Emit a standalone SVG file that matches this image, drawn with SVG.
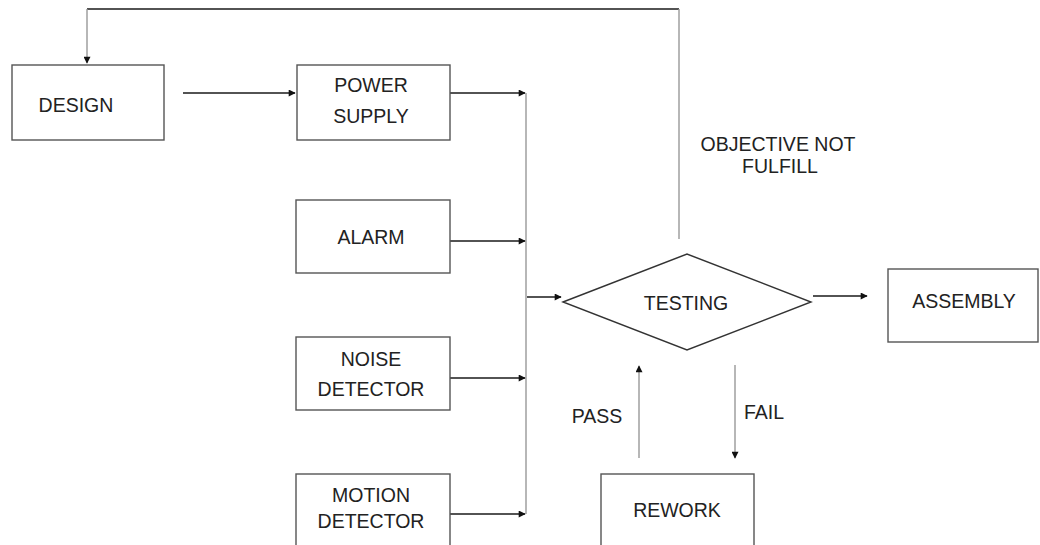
<svg xmlns="http://www.w3.org/2000/svg" width="1040" height="545" viewBox="0 0 1040 545">
<style>
.box{fill:none;stroke:#555;stroke-width:1.4}
.t{font-family:"Liberation Sans",Arial,sans-serif;font-size:19.5px;fill:#222;text-anchor:middle}
.h{fill:none;stroke:#1a1a1a;stroke-width:1.6}
.v{fill:none;stroke:#999;stroke-width:1.4}
</style>
<defs>
<marker id="ah" viewBox="0 0 10 10" refX="9" refY="5" markerWidth="9" markerHeight="7" markerUnits="userSpaceOnUse" orient="auto">
<path d="M0,0 L10,5 L0,10 z" fill="#111"/>
</marker>
</defs>
<rect width="1040" height="545" fill="#fff"/>
<g id="connectors">
<polyline class="h" points="679,9 87,9"/>
<line class="v" x1="679" y1="239" x2="679" y2="9"/>
<line class="v" x1="87" y1="9" x2="87" y2="63" marker-end="url(#ah)"/>
<line class="h" x1="183" y1="93" x2="295" y2="93" marker-end="url(#ah)"/>
<line class="h" x1="450" y1="93" x2="525" y2="93" marker-end="url(#ah)"/>
<line class="v" x1="526" y1="93" x2="526" y2="514"/>
<line class="h" x1="450" y1="241" x2="525" y2="241" marker-end="url(#ah)"/>
<line class="h" x1="450" y1="378" x2="525" y2="378" marker-end="url(#ah)"/>
<line class="h" x1="450" y1="514" x2="525" y2="514" marker-end="url(#ah)"/>
<line class="h" x1="527" y1="297" x2="561" y2="297" marker-end="url(#ah)"/>
<line class="h" x1="813" y1="296" x2="867" y2="296" marker-end="url(#ah)"/>
<line class="v" x1="639" y1="458" x2="639" y2="366" marker-end="url(#ah)"/>
<line class="v" x1="735" y1="365" x2="735" y2="458" marker-end="url(#ah)"/>
<text class="t" x="597" y="423">PASS</text>
<text class="t" x="764" y="419">FAIL</text>
<text class="t" x="778" y="151">OBJECTIVE NOT</text>
<text class="t" x="780" y="173">FULFILL</text>
</g>
<g id="design"><rect class="box" x="12" y="65" width="152" height="75"/><text class="t" x="76" y="112">DESIGN</text></g>
<g id="power"><rect class="box" x="297" y="65" width="153" height="75"/><text class="t" x="371" y="92">POWER</text><text class="t" x="371" y="123">SUPPLY</text></g>
<g id="alarm"><rect class="box" x="296" y="200" width="154" height="73"/><text class="t" x="371" y="244">ALARM</text></g>
<g id="noise"><rect class="box" x="296" y="337" width="154" height="73"/><text class="t" x="371" y="366">NOISE</text><text class="t" x="371" y="396">DETECTOR</text></g>
<g id="motion"><rect class="box" x="296" y="474" width="154" height="90"/><text class="t" x="371" y="502">MOTION</text><text class="t" x="371" y="528">DETECTOR</text></g>
<g id="testing"><polygon points="563,302 687,254 811,302 687,350" fill="none" stroke="#333" stroke-width="1.4"/><text class="t" x="686" y="310">TESTING</text></g>
<g id="assembly"><rect class="box" x="888" y="269" width="150" height="73"/><text class="t" x="964" y="308">ASSEMBLY</text></g>
<g id="rework"><rect class="box" x="601" y="474" width="153" height="90"/><text class="t" x="677" y="517">REWORK</text></g>
</svg>
